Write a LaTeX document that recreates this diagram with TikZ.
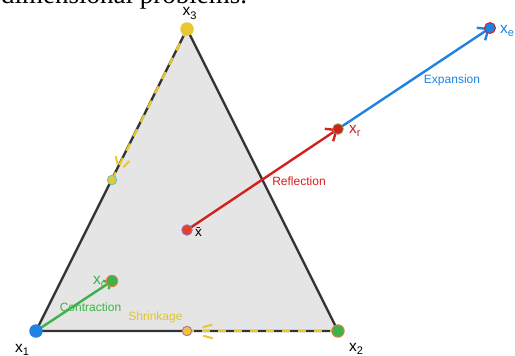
\documentclass[tikz,border=0pt]{standalone}
\usepackage{fontspec}
\setmainfont{Liberation Sans}
\newfontfamily\serifx{Liberation Serif}
\usetikzlibrary{arrows.meta,calc}
\definecolor{edgegray}{HTML}{333333}
\definecolor{trifill}{HTML}{E5E5E5}
\definecolor{ylw}{HTML}{E8C830}
\definecolor{ylwtext}{HTML}{E2C232}
\definecolor{grn}{HTML}{3DB24A}
\definecolor{blu}{HTML}{1F82E2}
\definecolor{rd}{HTML}{D21F1F}
\definecolor{orng}{HTML}{E88040}
\definecolor{purp}{HTML}{9070D0}
\definecolor{olive}{HTML}{909040}
\definecolor{cyn}{HTML}{60C8D8}
\definecolor{mauve}{HTML}{B070A0}
\definecolor{xbarfill}{HTML}{E8401C}
\pgfdeclarelayer{bg}\pgfdeclarelayer{labl}\pgfdeclarelayer{mid}
\pgfsetlayers{bg,labl,mid,main}
\newcommand\subx[1]{\raisebox{-3.5pt}{\fontsize{11}{11}\selectfont #1}}
\begin{document}
\begin{tikzpicture}[x=1pt,y=-1pt,
  dot/.style={circle,inner sep=0pt,line width=0.9pt},
  lab/.style={font=\fontsize{12}{12}\selectfont, inner sep=0pt, anchor=center},
  vlab/.style={anchor=base west, inner sep=0pt, font=\fontsize{15.5}{15.5}\selectfont},
  ydash/.style={draw=ylw, line width=2.2pt, dash pattern=on 8pt off 8pt},
  chev/.style={draw=ylw, line width=2pt},
  arr/.style={line width=2.4pt,-{Straight Barb[length=9pt,width=15pt,line width=2.4pt]}}]
\useasboundingbox (0,0) rectangle (515,356);
\clip (0,0) rectangle (515,356);
% partial caption at top
\node[anchor=base west, inner sep=0pt, font=\serifx\fontsize{27}{27}\selectfont] (cap) at (1,3) {dimensional problems.};
% points
\node[dot, fill=blu, minimum size=13.5pt] (x1) at (36,331) {};
\node[dot, fill=grn, draw=orng, minimum size=12.5pt] (x2) at (338,331) {};
\node[dot, fill=ylw, minimum size=13.5pt] (x3) at (187,29) {};
\node[dot, fill=xbarfill, draw=purp, minimum size=10.5pt] (xb) at (187,230) {};
\node[dot, fill=rd, draw=olive, minimum size=10.5pt] (xr) at (338,129) {};
\node[dot, fill=blu, draw=rd, minimum size=11pt] (xe) at (490,28) {};
\node[dot, fill=grn, draw=orng, minimum size=11.5pt] (xc) at (112,281) {};
\node[dot, fill=ylw, draw=cyn, minimum size=9.5pt] (m13) at (112,180) {};
\node[dot, fill=ylw, draw=mauve, minimum size=9.5pt] (m12) at (187,331) {};
% triangle
\begin{pgfonlayer}{bg}
\filldraw[fill=trifill, draw=edgegray, line width=2.4pt, line join=round]
  (x1.center) -- (x2.center) -- (x3.center) -- cycle;
\draw[ydash] (x3.center) -- (m13.center);
\draw[ydash] (x2.center) -- (m12.center);
% shrink chevrons
\draw[chev] (115.7,156.3) -- (117.7,164.3);
\draw[chev] (129.3,161) -- (123.3,167.3);
\draw[chev] (202.7,327.3) -- (212.3,324.7);
\draw[chev] (203.3,335.7) -- (212.7,338.3);
\end{pgfonlayer}
% labels
\begin{pgfonlayer}{labl}
\node[vlab] (l3) at (182.5,16) {x\subx{3}};
\node[vlab] (l1) at (15,352) {x\subx{1}};
\node[vlab] (l2) at (349,351) {x\subx{2}};
\node[vlab, font=\fontsize{13.5}{13.5}\selectfont] (lb) at (195,236) {x̄};
\node[vlab, text=rd] (lr) at (349,133) {x\subx{r}};
\node[vlab, text=blu] (le) at (500,33) {x\subx{e}};
\node[vlab, text=grn] (lc) at (93,284) {x\subx{c}};
\node[lab, text=grn] (tc) at (90.5,307) {Contraction};
\node[lab, text=ylwtext] (ts) at (155.5,317) {Shrinkage};
\node[lab, text=rd] (tr) at (299,181.5) {Reflection};
\node[lab, text=blu] (te) at (452,80) {Expansion};
\end{pgfonlayer}
% arrows
\begin{pgfonlayer}{mid}
\draw[arr, draw=rd] (xb.center) -- (xr.center);
\draw[arr, draw=blu] (xr.center) -- (xe.center);
\draw[line width=2.4pt, draw=grn, -{Straight Barb[length=5.5pt,width=10pt,line width=2.4pt]}] (x1.center) -- (xc.center);
\end{pgfonlayer}
\end{tikzpicture}
\end{document}
